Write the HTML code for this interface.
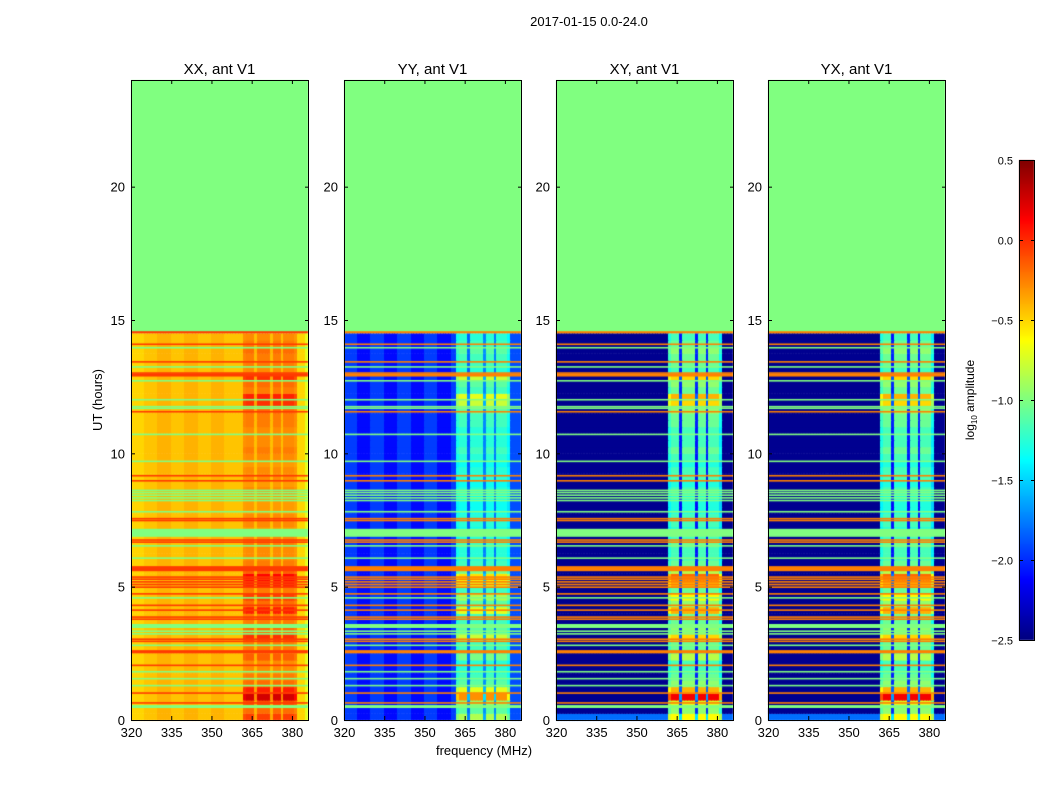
<!DOCTYPE html>
<html><head><meta charset="utf-8">
<style>
body{margin:0;background:#fff;width:1050px;height:800px;overflow:hidden;position:relative;font-family:"Liberation Sans",sans-serif;}
canvas{position:absolute;left:0;top:0;}
svg{position:absolute;left:0;top:0;}
</style></head>
<body>
<canvas id="c" width="1050" height="800"></canvas>
<svg id="s" width="1050" height="800"></svg>
<script>
// ---- data ----
const panelTitles = ["XX, ant V1","YY, ant V1","XY, ant V1","YX, ant V1"];
const panelLeft = [131,344,556,768];
const freqTicks = [320,335,350,365,380];
const hourTicks = [0,5,10,15,20];
const cbTicks = [0.5,0.0,-0.5,-1.0,-1.5,-2.0,-2.5];
// per-channel (320..385 MHz) signal mask
const sigCol = [0,0,0,0,0,0,0,0,0,0,0,0,0,0,0,0,0,0,0,0,0,0,0,0,0,0,0,0,0,0,0,0,0,0,0,0,0,0,0,0,0,0,
  0.9,1,1,1,0.3,1,1,1,1,1,0.3,1,1,1,0.3,1,1,1,1,0.8,0,0,0,0];
// per-panel background level per 5 MHz channel group
const baseXX = [-0.5,-0.45,-0.4,-0.45,-0.4,-0.45,-0.4,-0.45,-0.45,-0.5,-0.5,-0.5,-0.5,-0.7];
const baseYY = [-1.95,-2.1,-1.95,-2.1,-1.95,-2.1,-1.95,-2.1,-1.95,-2.1,-1.95,-2.0,-1.9,-1.9];
const baseXY = [-2.45,-2.45,-2.45,-2.45,-2.45,-2.45,-2.45,-2.45,-2.45,-2.45,-2.45,-2.45,-2.45,-2.45];
const sigLevel = [-0.42,-1.5,-1.5,-1.5];
const sigGain = [0.45,0.8,1.1,1.1];
const flagHot = [-0.05,-0.25,-0.25,-0.25];
const bottomRowVal = [null,null,-1.8,-1.8];
// row signal strength per 0.25 h bin, 0..14.5 h
const rowStrength = [0.8,0.5,0.7,1.5,1.0,0.5,0.4,0.3,0.3,0.6,0.4,0.4,0.9,0.5,0.4,0.4,1.0,0.5,0.8,0.4,
  1.0,1.2,0.6,0.4,0.3,0.3,0.4,0.3,0.2,0.3,0.3,0.2,0.2,0.2,0.3,0.2,0.3,0.3,0.2,0.3,
  0.4,0.3,0.3,0.3,0.4,0.4,0.5,0.9,1.0,0.4,0.5,0.9,0.3,0.4,0.4,0.5,0.4,0.3];
// flagged full-width lines (hours) and kind: 0 = green (-1), 1 = hot
const flagStart = [14.5,14.06,13.93,13.4,13.21,12.98,12.93,12.88,12.69,11.98,11.72,11.66,11.53,10.68,9.67,9.13,8.94,8.58,8.5,8.4,8.3,8.2,7.78,7.52,7.45,6.87,6.72,6.64,6.5,6.04,5.58,5.33,5.25,5.15,5.05,4.95,4.7,4.55,4.27,4.09,3.83,3.75,3.45,3.3,3.2,3.0,2.92,2.77,2.5,2.02,1.78,1.52,1.26,0.98,0.61,0.45];
const flagEnd   = [14.58,14.12,13.99,13.46,13.27,13.04,12.99,12.94,12.75,12.04,11.78,11.72,11.59,10.74,9.73,9.19,9.0,8.64,8.56,8.46,8.36,8.26,7.84,7.58,7.51,7.17,6.78,6.7,6.56,6.1,5.77,5.39,5.31,5.21,5.11,5.01,4.76,4.61,4.33,4.15,3.89,3.81,3.6,3.36,3.26,3.06,2.98,2.83,2.62,2.08,1.84,1.58,1.32,1.04,0.67,0.56];
const flagKind  = [1,1,0,1,0,1,1,1,0,0,0,0,1,0,0,1,1,0,0,0,0,0,0,1,1,0,1,1,0,0,1,1,1,1,1,1,1,0,1,1,1,1,0,0,0,1,1,0,1,1,0,0,0,1,1,0];

// ---- axes ----
const Y0=720, Y1=80, PW=177;
const yOf = h => Y0 - (h/24)*(Y0-Y1);
const xOf = (p,f) => panelLeft[p] + (f-320)/(386-320)*PW;
const cbY = v => 160 + (0.5 - v)/3*480;
function clamp(x){return Math.max(0,Math.min(1,x));}
function jet(v){const t=clamp((v+2.5)/3);
  const r=clamp(1.5-Math.abs(4*t-3)),g=clamp(1.5-Math.abs(4*t-2)),b=clamp(1.5-Math.abs(4*t-1));
  return `rgb(${Math.round(r*255)},${Math.round(g*255)},${Math.round(b*255)})`;}

const ctx=document.getElementById('c').getContext('2d');
const bases=[baseXX,baseYY,baseXY,baseXY];
for(let p=0;p<4;p++){
  ctx.fillStyle=jet(-1.0);
  ctx.fillRect(xOf(p,320),yOf(24),xOf(p,386)-xOf(p,320),yOf(14.5)-yOf(24));
  for(let r=0;r<rowStrength.length;r++){
    const h0=r*0.25,h1=h0+0.25;
    for(let c=0;c<sigCol.length;c++){
      const f=320+c;
      let v=bases[p][Math.floor(c/5)];
      if(r===0 && bottomRowVal[p]!==null) v=bottomRowVal[p];
      if(sigCol[c]>0) v = v*(1-sigCol[c]) + sigCol[c]*(sigLevel[p]+sigGain[p]*rowStrength[r]);
      ctx.fillStyle=jet(v);
      const x0=xOf(p,f),x1=xOf(p,f+1);
      ctx.fillRect(Math.floor(x0),yOf(h1),Math.ceil(x1)-Math.floor(x0),yOf(h0)-yOf(h1)+0.5);
    }
  }
  for(let i=0;i<flagStart.length;i++){
    ctx.fillStyle=jet(flagKind[i]?flagHot[p]:-1.0);
    ctx.fillRect(xOf(p,320),yOf(flagEnd[i]),PW,Math.max(1.5,yOf(flagStart[i])-yOf(flagEnd[i])));
  }
}
for(let y=160;y<640;y++){ctx.fillStyle=jet(0.5-(y-160+0.5)/480*3);ctx.fillRect(1019,y,15,1);}

// ---- svg overlay ----
const NS="http://www.w3.org/2000/svg", s=document.getElementById('s');
function el(tag,attrs,txt){const e=document.createElementNS(NS,tag);for(const k in attrs)e.setAttribute(k,attrs[k]);if(txt!==undefined)e.textContent=txt;s.appendChild(e);return e;}
let t;
t=el('text',{x:589,y:26,'font-size':13,'text-anchor':'middle'},'2017-01-15 0.0-24.0');


for(let p=0;p<4;p++){
  const L=panelLeft[p],R=L+PW;
  const fr=el('rect',{x:L+0.5,y:Y1+0.5,width:PW,height:Y0-Y1,fill:'none',stroke:'#000','stroke-width':1});
  
  
  t=el('text',{x:L+PW/2,y:74,'font-size':15,'text-anchor':'middle'},panelTitles[p]);
  
  
  hourTicks.forEach(h=>{const y=yOf(h)+0.5;
    el('line',{x1:L,x2:L+4,y1:y,y2:y,stroke:'#000'});el('line',{x1:R+1,x2:R-3,y1:y,y2:y,stroke:'#000'});
    t=el('text',{x:L-6,y:y+4.5,'font-size':13,'text-anchor':'end'},String(h));
    
    });
  freqTicks.forEach(f=>{const x=xOf(p,f)+0.5;
    el('line',{x1:x,x2:x,y1:Y0,y2:Y0-4,stroke:'#000'});el('line',{x1:x,x2:x,y1:Y1,y2:Y1+4,stroke:'#000'});
    t=el('text',{x:x,y:737,'font-size':13,'text-anchor':'middle'},String(f));
    
    });
}
t=el('text',{x:0,y:0,'font-size':13,'text-anchor':'middle',transform:'translate(102,400) rotate(-90)'},'UT (hours)');


t=el('text',{x:484,y:755,'font-size':13,'text-anchor':'middle'},'frequency (MHz)');


const cf=el('rect',{x:1019.5,y:160.5,width:15,height:480,fill:'none',stroke:'#000'});


cbTicks.forEach(v=>{const y=cbY(v)+0.5;
  el('line',{x1:1019,x2:1023,y1:y,y2:y,stroke:'#000'});el('line',{x1:1035,x2:1031,y1:y,y2:y,stroke:'#000'});
  t=el('text',{x:1013,y:y+4,'font-size':11,'text-anchor':'end'},(v<0?'\u2212':'')+Math.abs(v).toFixed(1));
  
  });
t=el('text',{x:0,y:0,'font-size':12,'text-anchor':'middle',transform:'translate(974,400) rotate(-90)'});


t.innerHTML='log<tspan font-size="8" dy="3">10</tspan><tspan dy="-3"> amplitude</tspan>';
</script>
</body></html>
